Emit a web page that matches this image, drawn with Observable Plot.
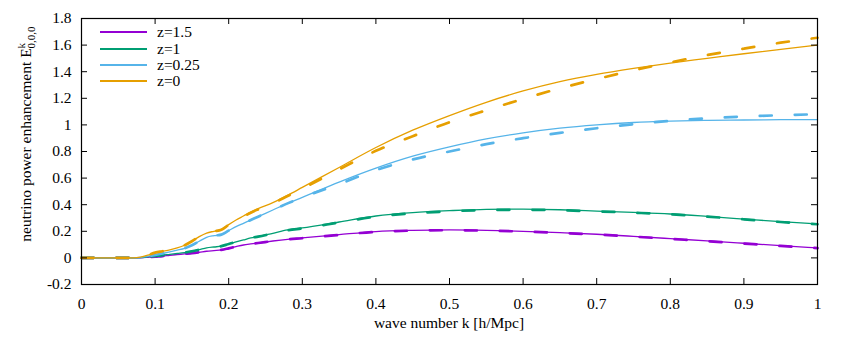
<!DOCTYPE html>
<html><head><meta charset="utf-8">
<script src="https://cdn.jsdelivr.net/npm/d3@7"></script>
<script src="https://cdn.jsdelivr.net/npm/@observablehq/plot@0.6"></script>
<style>
body{margin:0;background:#fff;}
#wrap{position:relative;width:845px;height:338px;font-family:"Liberation Serif",serif;}
.row{position:absolute;left:100px;height:16px;display:flex;align-items:center;font-size:15.5px;line-height:16px;}
.sw{width:47px;height:2px;margin-right:10px;}
</style></head><body><div id="wrap"></div>
<script>
const k = [0, 0.05, 0.07, 0.08, 0.09, 0.10, 0.11, 0.12, 0.13, 0.14, 0.15, 0.16, 0.17, 0.18, 0.19, 0.20, 0.21, 0.22, 0.23, 0.24, 0.26, 0.28, 0.30, 0.35, 0.40, 0.45, 0.50, 0.55, 0.60, 0.65, 0.70, 0.75, 0.80, 0.85, 0.90, 0.95, 1.00];

const z15Solid = [0,0,0,0.001,0.005,0.01,0.014,0.02,0.025,0.03,0.035,0.042,0.05,0.055,0.06,0.072,0.085,0.097,0.105,0.112,0.127,0.14,0.15,0.175,0.198,0.207,0.21,0.207,0.2,0.19,0.178,0.162,0.145,0.128,0.11,0.092,0.075];
const z15Dash  = [0,0,0,0.001,0.005,0.01,0.014,0.02,0.025,0.03,0.035,0.042,0.05,0.055,0.06,0.072,0.085,0.097,0.105,0.112,0.127,0.14,0.148,0.173,0.196,0.205,0.208,0.205,0.198,0.188,0.176,0.16,0.143,0.126,0.108,0.09,0.074];

const z1Solid = [0,0,0,0.002,0.008,0.015,0.02,0.027,0.033,0.04,0.05,0.062,0.075,0.082,0.088,0.105,0.12,0.135,0.15,0.16,0.185,0.21,0.225,0.27,0.315,0.34,0.355,0.365,0.367,0.362,0.352,0.342,0.33,0.312,0.292,0.272,0.255];
const z1Dash  = [0,0,0,0.002,0.008,0.015,0.02,0.027,0.033,0.04,0.05,0.062,0.075,0.082,0.088,0.105,0.12,0.135,0.15,0.16,0.183,0.207,0.222,0.266,0.31,0.335,0.35,0.36,0.362,0.358,0.35,0.34,0.328,0.31,0.29,0.27,0.253];

const z025Solid = [0,0,0,0.003,0.012,0.022,0.033,0.045,0.058,0.072,0.095,0.125,0.155,0.167,0.175,0.205,0.235,0.26,0.285,0.31,0.36,0.41,0.455,0.57,0.675,0.765,0.835,0.895,0.94,0.975,1.0,1.018,1.028,1.034,1.037,1.039,1.04];
const z025Dash  = [0,0,0,0.003,0.012,0.022,0.033,0.045,0.058,0.072,0.095,0.125,0.155,0.167,0.175,0.205,0.235,0.26,0.285,0.31,0.36,0.41,0.455,0.555,0.66,0.74,0.80,0.855,0.90,0.94,0.975,1.005,1.03,1.05,1.063,1.073,1.08];

const z0Solid = [0,0,0,0.005,0.02,0.04,0.05,0.06,0.075,0.095,0.125,0.16,0.187,0.2,0.212,0.25,0.285,0.315,0.345,0.37,0.415,0.47,0.53,0.68,0.83,0.96,1.07,1.17,1.255,1.325,1.38,1.425,1.465,1.50,1.535,1.568,1.60];
const z0Dash  = [0,0,0,0.005,0.02,0.04,0.05,0.06,0.075,0.095,0.125,0.16,0.185,0.2,0.212,0.248,0.28,0.31,0.34,0.365,0.41,0.465,0.52,0.665,0.805,0.915,1.02,1.11,1.195,1.275,1.345,1.41,1.47,1.525,1.573,1.618,1.655];

const seriesNames = ["z=1.5", "z=1", "z=0.25", "z=0"];
const seriesColors = ["#9400d3", "#009e73", "#56b4e9", "#e69f00"];
const solidValues = [z15Solid, z1Solid, z025Solid, z0Solid];
const dashValues = [z15Dash, z1Dash, z025Dash, z0Dash];

const xTicks = [0,0.1,0.2,0.3,0.4,0.5,0.6,0.7,0.8,0.9,1];
const yTicks = [-0.2,0,0.2,0.4,0.6,0.8,1,1.2,1.4,1.6,1.8];

const W = 845, H = 338, mL = 81, mR = 28, mT = 18, mB = 54;
const innerW = W - mL - mR, innerH = H - mT - mB;
const fmt = d => String(Math.round(d * 10) / 10);

const toRows = (vals, name) => k.map((kk, i) => ({k: kk, v: vals[i], s: name}));

const marks = [];
seriesNames.forEach((name, i) => {
  marks.push(Plot.line(toRows(solidValues[i], name), {x: "k", y: "v", stroke: seriesColors[i], strokeWidth: 1.3, curve: "monotone-x"}));
  marks.push(Plot.line(toRows(dashValues[i], name), {x: "k", y: "v", stroke: seriesColors[i], strokeWidth: 2.7, strokeDasharray: "12,23", curve: "monotone-x"}));
});

const plot = Plot.plot({
  width: W, height: H,
  marginLeft: mL, marginRight: mR, marginTop: mT, marginBottom: mB,
  style: {fontFamily: "'Liberation Serif', serif", fontSize: "15.5px", background: "white", color: "black", overflow: "visible"},
  x: {domain: [0, 1]},
  y: {domain: [-0.2, 1.8]},
  marks: [
    ...marks,
    Plot.axisX({anchor: "bottom", ticks: xTicks, tickSize: 0, tickPadding: 13, tickFormat: fmt, label: null}),
    Plot.axisY({anchor: "left", ticks: yTicks, tickSize: 0, tickPadding: 10, tickFormat: fmt, label: null}),
    Plot.ruleX(xTicks, {x: d => d, insetTop: innerH - 6, stroke: "black"}),
    Plot.ruleX(xTicks, {x: d => d, insetBottom: innerH - 6, stroke: "black"}),
    Plot.ruleY(yTicks, {y: d => d, insetRight: innerW - 6, stroke: "black"}),
    Plot.ruleY(yTicks, {y: d => d, insetLeft: innerW - 6, stroke: "black"}),
    Plot.frame({stroke: "black", strokeWidth: 1.2})
  ]
});

const svg = d3.select(plot);
svg.append("text")
  .attr("x", mL + innerW / 2).attr("y", 328)
  .attr("text-anchor", "middle").attr("fill", "black")
  .style("font-family", "'Liberation Serif', serif").style("font-size", "15.5px")
  .text("wave number k [h/Mpc]");
const yl = svg.append("text")
  .attr("transform", "translate(31,134) rotate(-90)")
  .attr("text-anchor", "middle").attr("fill", "black")
  .style("font-family", "'Liberation Serif', serif").style("font-size", "15.5px");
yl.append("tspan").text("neutrino power enhancement E");
yl.append("tspan").attr("dy", "-0.55em").style("font-size", "11px").text("k");
yl.append("tspan").attr("dx", "-5.5").attr("dy", "0.95em").style("font-size", "11px").text("0,0,0");

const wrap = document.getElementById("wrap");
wrap.appendChild(plot);
const rowTops = [24, 41, 57, 73];
seriesNames.forEach((name, i) => {
  const row = document.createElement("div");
  row.className = "row";
  row.style.top = rowTops[i] + "px";
  const sw = document.createElement("div");
  sw.className = "sw";
  sw.style.background = seriesColors[i];
  const t = document.createElement("span");
  t.textContent = name;
  row.appendChild(sw); row.appendChild(t);
  wrap.appendChild(row);
});
</script>
</body></html>
